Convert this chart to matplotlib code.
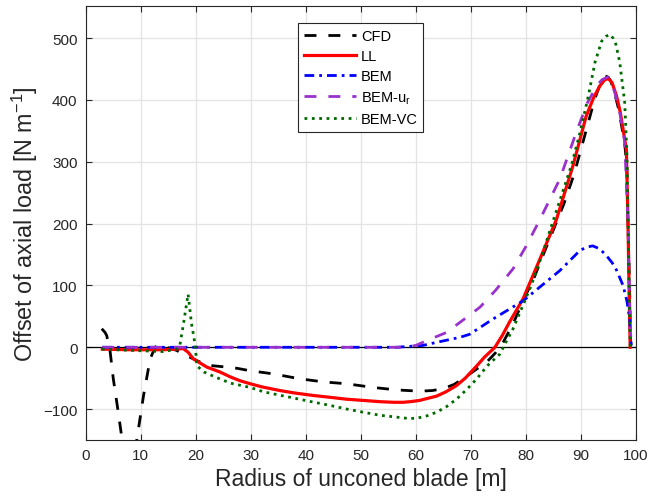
import numpy as np
import matplotlib
matplotlib.use("Agg")
import matplotlib.pyplot as plt

plt.rcParams['font.family'] = ['Liberation Sans', 'DejaVu Sans']
plt.rcParams['mathtext.fontset'] = 'custom'
plt.rcParams['mathtext.rm'] = 'Liberation Sans'
plt.rcParams['mathtext.it'] = 'Liberation Sans:italic'

# ---------------- data ----------------
cfd_x = [2.9, 3.5, 3.8, 4.4, 5.0, 5.9, 6.5, 7.3, 8.2, 9.0, 9.3, 10.5, 11.7, 12.6, 13.2, 14.7, 16.5,
         17.7, 19.6, 22.0, 25.6, 27.5, 29.9, 34.1, 38.9, 43.2, 47.4, 52.3, 56.5, 60.7, 63.0, 65.0,
         67.0, 68.6, 71.1, 72.9, 74.5, 75.9, 77.8, 79.6, 81.5, 83.2, 86.9, 88.8, 90.5, 92.5, 93.5,
         94.4, 95.0, 95.5, 96.2, 96.9, 98.0, 98.4, 98.6, 98.9, 99.1]
cfd_y = [30, 24, 19, -5, -51, -105, -143, -185, -200, -172, -148, -78, -19, 0, 4, 0, -5,
         -11, -19, -29, -32, -34, -38, -43, -51, -56, -59, -65, -69, -71, -70, -67,
         -60, -51, -35, -24, -9, 8, 40, 77, 112, 150, 231, 280, 335, 400, 425,
         439, 437, 430, 410, 385, 330, 290, 200, 90, 0]

ll_x = [3.0, 8.0, 11.0, 14.0, 16.5, 17.7, 18.6, 19.6, 22.0, 24.4, 26.3, 28.0, 29.9, 32.0, 35.3, 38.0,
        41.4, 44.5, 47.4, 50.5, 53.5, 56.0, 57.7, 59.0, 60.7, 62.0, 63.8, 65.5, 67.4, 69.0,
        71.1, 72.5, 74.4, 75.8, 77.0, 79.5, 82.6, 85.6, 88.6, 91.0, 92.4, 93.5, 94.3, 95.0, 95.7,
        96.5, 97.2, 97.7, 98.3, 98.6, 98.8, 99.0]
ll_y = [-3, -4, -4, -4, -3, -2, -8, -19, -32, -40, -48, -54, -59, -64, -70, -74,
        -78, -81, -84, -86, -88, -89, -89, -88, -86, -83, -79, -72, -62, -50,
        -30, -16, 0, 20, 40, 78, 143, 207, 294, 374, 405, 423, 432, 435, 428,
        407, 380, 353, 320, 200, 90, 0]

bem_x = [3.0, 20.0, 40.0, 56.5, 61.3, 63.8, 68.0, 69.8, 74.1, 79.5, 86.2, 89.8, 91.0, 92.2, 93.5,
         94.7, 95.7, 96.5, 97.7, 98.4, 98.9, 99.2]
bem_y = [0, 0, 0, 0, 3, 8, 16, 21, 46, 75, 124, 156, 162, 164, 159,
         148, 137, 125, 100, 75, 46, 3]

bemur_x = [3.0, 20.0, 40.0, 58.0, 60.0, 61.3, 62.6, 65.6, 68.0, 71.7, 74.5, 77.7, 80.1, 82.6,
           86.2, 89.2, 91.2, 92.9, 93.9, 94.9, 95.6, 96.2, 97.2, 98.0, 98.6, 99.1]
bemur_y = [0, 0, 0, 0, 3, 8, 13, 24, 40, 65, 92, 127, 164, 207,
           272, 348, 395, 423, 433, 437, 428, 412, 375, 332, 200, 0]

vc_x = [2.9, 8.1, 14.1, 16.5, 17.1, 17.8, 18.6, 19.2, 19.9, 20.2, 21.5, 23.5, 26.3, 29.9, 32.3,
        35.0, 38.3, 41.0, 44.4, 47.5, 50.4, 53.5, 56.5, 58.5, 60.1, 62.0, 63.8, 65.6, 67.4,
        69.3, 71.1, 73.0, 75.3, 76.5, 77.7, 79.5, 81.0, 83.0, 85.0, 88.3, 89.9, 91.4, 92.6,
        93.8, 94.6, 95.3, 95.9, 96.4, 97.1, 98.0, 98.4, 98.6, 98.8, 99.0]
vc_y = [-3, -5, -7, -3, 3, 40, 86, 40, 3, -30, -40, -48, -58, -65, -72,
        -77, -83, -88, -94, -100, -105, -110, -113, -115, -115, -111, -105, -96, -84,
        -68, -51, -30, -11, 10, 30, 68, 100, 150, 205, 294, 348, 407, 461,
        495, 503, 506, 500, 490, 461, 396, 315, 207, 100, 0]

labels = ['CFD', 'LL', 'BEM', 'BEM-u$\\mathregular{_r}$', 'BEM-VC']
x_ticks = list(range(0, 101, 10))
y_ticks = [-100, 0, 100, 200, 300, 400, 500]

# ---------------- plot ----------------
fig = plt.figure(figsize=(6.5, 5.02), dpi=100)
ax = fig.add_axes([0.132, 0.1215, 0.846, 0.8645])

ax.axhline(0, color='black', lw=0.9, zorder=1.5)

lw = 2.0
common = dict(solid_joinstyle='round', dash_joinstyle='round')
ax.plot(cfd_x, cfd_y, color='black', lw=lw, dashes=(4.3, 4.3), label=labels[0], zorder=2, **common)
ax.plot(ll_x, ll_y, color='#ff0000', lw=2.3, label=labels[1], zorder=2.1, **common)
ax.plot(bem_x, bem_y, color='#0000ff', lw=lw, dashes=(3.5, 1.8, 1, 1.8), label=labels[2], zorder=2.2, **common)
ax.plot(bemur_x, bemur_y, color='#9932cc', lw=lw, dashes=(4.3, 4.3), label=labels[3], zorder=2.3, **common)
ax.plot(vc_x, vc_y, color='#006a00', lw=lw, linestyle=':', label=labels[4], zorder=2.4, **common)

ax.set_xlim(0, 100)
ax.set_ylim(-150, 552)
ax.set_xticks(x_ticks)
ax.set_yticks(y_ticks)
ax.grid(True, color='#e3e3e3', lw=0.9)
ax.set_axisbelow(True)
ax.tick_params(direction='in', length=4, width=0.8, top=True, right=True,
               labelsize=11, colors='#262626', pad=6)
for s in ax.spines.values():
    s.set_color('#262626')
    s.set_linewidth(0.8)

ax.set_xlabel('Radius of unconed blade [m]', fontsize=16.5, color='#262626', labelpad=3)
ax.set_ylabel('Offset of axial load [N m$\\mathregular{^{-1}}$]', fontsize=16.8,
              color='#262626', labelpad=2)

leg = ax.legend(loc='upper left', bbox_to_anchor=(0.386, 0.961), fontsize=10.5,
                frameon=True, fancybox=False, edgecolor='#262626', framealpha=1,
                borderaxespad=0, handlelength=3.6, handletextpad=0.3, labelspacing=0.42,
                borderpad=0.4)
leg.get_frame().set_linewidth(0.8)

fig.savefig('out.png', dpi=100)
